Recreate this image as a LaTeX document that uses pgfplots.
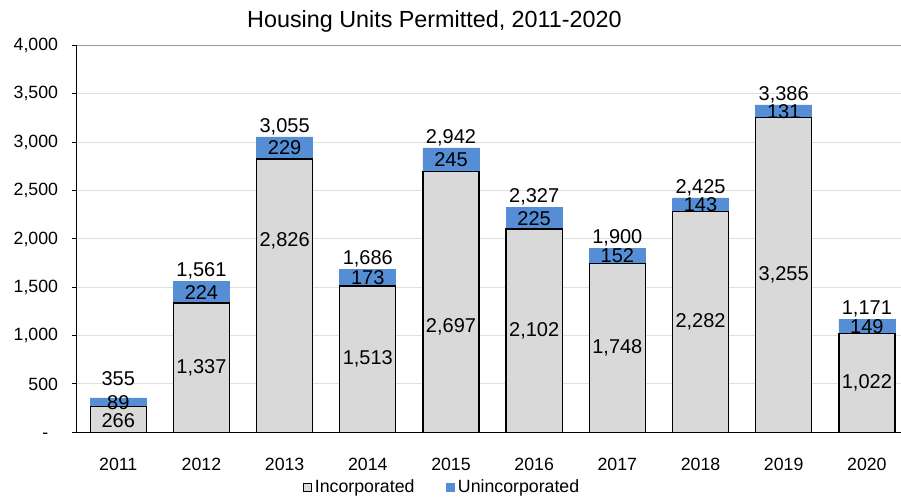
\documentclass[border=0pt]{standalone}
\usepackage{pgfplots}
\pgfplotsset{compat=1.18}
\usepackage{pgfplotstable}
\usepackage{fontspec}
\setmainfont{Liberation Sans}

\definecolor{incgray}{RGB}{217,217,217}
\definecolor{uncblue}{RGB}{85,142,213}

% incl, ulab, tlab = heights of the labels (grey part, blue part, total)
\pgfplotstableread{
x inc uninc total incl ulab tlab
0 266 89 355 118 306 455
1 1337 224 1561 668 1449 1561
2 2826 229 3055 1980 2940 3055
3 1513 173 1686 756 1599 1686
4 2697 245 2942 1090 2819 2942
5 2102 225 2327 1051 2214 2327
6 1748 152 1900 874 1824 1900
7 2282 143 2425 1141 2353 2425
8 3255 131 3386 1627 3320 3386
9 1022 149 1171 511 1096 1171
}\permits

\newcommand{\lblfont}{\fontsize{15}{18}\selectfont}
\newcommand{\tckfont}{\fontsize{13.3}{16}\selectfont}

\pgfplotsset{
  frame/.style={
    at={(0pt,0pt)}, anchor=south west,
    scale only axis, width=618.2pt, height=290pt,
    xmin=-0.5, xmax=9.41, ymin=0, ymax=4000},
  labels/.style={
    draw=none, mark=none, forget plot,
    nodes near coords, point meta=explicit,
    nodes near coords style={font=\lblfont, text=black, anchor=center,
      /pgf/number format/fixed, /pgf/number format/precision=0,
      /pgf/number format/1000 sep={,}, /pgf/number format/assume math mode=true}},
}

\begin{document}
\begin{tikzpicture}
\path[use as bounding box] (-57.5pt,-48.5pt) rectangle (618.2pt,324.2pt);
\begin{axis}[
  frame,
  ybar stacked, bar width=42pt,
  axis x line=bottom, axis y line=left,
  axis line style={-, black, line width=1pt},
  xtick={0,...,9},
  xticklabels={2011,2012,2013,2014,2015,2016,2017,2018,2019,2020},
  x tick style={draw=none},
  xticklabel style={font=\tckfont, anchor=center, yshift=-20pt},
  ytick={0,500,...,3500},
  yticklabels={-\phantom{0},500,{1,000},{1,500},{2,000},{2,500},{3,000},{3,500}},
  extra y ticks={4000},
  extra y tick labels={4{,}000},
  extra y tick style={grid style={gray!80, line width=0.9pt}},
  y tick style={black, line width=0.8pt},
  tick align=outside, major tick length=3.75pt,
  yticklabel style={font=\tckfont, anchor=east, inner sep=0pt, xshift=-10pt},
  ymajorgrids, grid style={gray!25, line width=0.8pt},
  title={Housing Units Permitted, 2011-2020},
  title style={font=\fontsize{17.5}{20}\selectfont, at={(0.434,1)}, anchor=center, yshift=11.8pt},
  legend style={at={(0.444,-0.1415)}, anchor=center, draw=none, fill=none,
    font=\tckfont, legend columns=2,
    /tikz/every even column/.append style={column sep=22pt}},
  legend image code/.code={\draw[#1, line width=0.6pt] (0pt,-3pt) rectangle (6pt,3pt);},
]
\addplot[fill=incgray, draw=black, line width=1pt] table[x=x, y=inc] {\permits};
\addlegendentry{Incorporated}
\addplot[fill=uncblue, draw=uncblue, line width=0.5pt] table[x=x, y=uninc] {\permits};
\addlegendentry{Unincorporated}
\end{axis}
\begin{axis}[frame, hide axis]
\addplot[labels] table[x=x, y=incl, meta=inc] {\permits};
\addplot[labels] table[x=x, y=ulab, meta=uninc] {\permits};
\addplot[labels, nodes near coords style={anchor=south, inner sep=1.5pt}]
  table[x=x, y=tlab, meta=total] {\permits};
\end{axis}
\end{tikzpicture}
\end{document}
